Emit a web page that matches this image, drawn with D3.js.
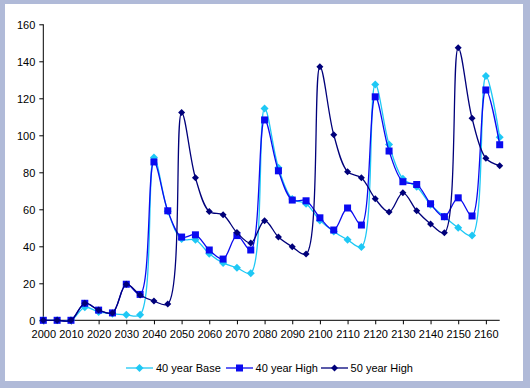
<!DOCTYPE html>
<html>
<head>
<meta charset="utf-8">
<script src="https://cdn.jsdelivr.net/npm/d3@7"></script>
<style>
  html, body { margin: 0; padding: 0; background: #B0BAD8; }
  svg { display: block; }
  text { font-family: "Liberation Sans", Arial, sans-serif; font-size: 11px; fill: #000; }
</style>
</head>
<body>
<svg id="chart" width="530" height="388"></svg>
<script>
const years = [2000,2005,2010,2015,2020,2025,2030,2035,2040,2045,2050,2055,2060,2065,2070,2075,2080,2085,2090,2095,2100,2105,2110,2115,2120,2125,2130,2135,2140,2145,2150,2155,2160,2165];
const base40 = [0,0,0,7,4.5,3.5,3,3,88,59,44,43.5,36,31,28.4,25.5,114.5,82.5,65.6,63,54,48,43.5,39.6,127.5,95,76.5,72.2,62.5,56,50,45.8,132,99];
const high40 = [0,0,0,9.2,5.5,4,19.5,14,85.6,59.2,45,46.2,38,33.1,45.8,38,108.3,80.8,65,64.6,55.4,48.8,60.7,51.5,120.8,91.5,74.9,73.4,63,56,66.2,56.4,124.5,94.9];
const high50 = [0,0,0,9.2,5.6,4,19.5,13.7,10.4,8.8,112.3,77,58.8,57,47.4,41.8,53.8,45,39.7,35.8,137.1,100.3,80.3,77,65.7,58.6,68.9,59.2,52.1,47.3,147.3,109.2,87.6,83.6];
const yTicks = [0,20,40,60,80,100,120,140,160];
const seriesNames = ["40 year Base","40 year High","50 year High"];

const series = [
  {name: seriesNames[0], values: base40, color: "#1EC8F5", marker: "diamond", size: 7},
  {name: seriesNames[1], values: high40, color: "#0A0AF0", marker: "square", size: 7},
  {name: seriesNames[2], values: high50, color: "#00007A", marker: "diamond", size: 6}
];

const svg = d3.select("#chart");
svg.append("rect").attr("x",5).attr("y",4).attr("width",518).attr("height",377).attr("fill","#fff");

const x = d3.scaleLinear().domain([0, years.length-1]).range([43.3, 499.7]);
const y = d3.scaleLinear().domain([0,160]).range([320.3, 24.3]);

// Y axis
const yAxis = d3.axisLeft(y).tickValues(yTicks).tickSize(4).tickPadding(4);
const gy = svg.append("g").attr("transform","translate(43.3,0)").call(yAxis);
gy.select(".domain").attr("stroke","#000").attr("d", `M0,${y(160)}V${y(0)}`);
gy.selectAll(".tick line").attr("stroke","#000");
gy.selectAll("text").attr("font-family", null).attr("font-size", null).attr("dy","0.35em");

// X axis
const xTickIdx = d3.range(0, years.length, 2);
const xAxis = d3.axisBottom(x).tickValues(xTickIdx).tickFormat(i => years[i]).tickSize(4).tickPadding(6);
const gx = svg.append("g").attr("transform",`translate(0,${y(0)})`).call(xAxis);
gx.select(".domain").attr("stroke","#000").attr("d", `M${x(0)},0H${x(years.length-1)}`);
gx.selectAll(".tick line").attr("stroke","#000");
gx.selectAll("text").attr("font-family", null).attr("font-size", null);

const line = d3.line().x((d,i)=>x(i)).y(d=>y(d)).curve(d3.curveCatmullRom.alpha(0.5));

function drawMarker(g, type, cx, cy, s, color) {
  if (type === "square") {
    g.append("rect").attr("x", cx - s/2).attr("y", cy - s/2).attr("width", s).attr("height", s).attr("fill", color);
  } else {
    const h = s/2 + 0.5;
    g.append("path").attr("d", `M${cx},${cy-h}L${cx+h},${cy}L${cx},${cy+h}L${cx-h},${cy}Z`).attr("fill", color);
  }
}

series.forEach(s => {
  const g = svg.append("g");
  g.append("path").datum(s.values).attr("d", line).attr("fill","none").attr("stroke", s.color).attr("stroke-width", 1.3);
  s.values.forEach((v,i) => drawMarker(g, s.marker, x(i), y(v), s.size, s.color));
});

// Legend
const legendItems = [
  {lx: 126, tx: 156},
  {lx: 226, tx: 255.6},
  {lx: 321, tx: 350.6}
];
const ly = 368;
series.forEach((s, i) => {
  const it = legendItems[i];
  const g = svg.append("g");
  g.append("line").attr("x1", it.lx).attr("x2", it.lx + 27).attr("y1", ly).attr("y2", ly).attr("stroke", s.color).attr("stroke-width", 1.3);
  drawMarker(g, s.marker, it.lx + 13.5, ly, s.size, s.color);
  g.append("text").attr("x", it.tx).attr("y", ly).attr("dy", "0.35em").text(s.name);
});
</script>
</body>
</html>
